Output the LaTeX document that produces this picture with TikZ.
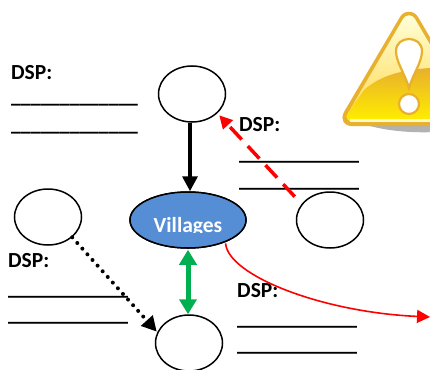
\documentclass[tikz,border=0pt]{standalone}
\usepackage{fontspec}
\setmainfont{Carlito}
\newfontfamily\rulefont{DejaVu Sans}
\usetikzlibrary{arrows.meta,shapes.geometric,calc}
\definecolor{vblue}{HTML}{558ED5}
\definecolor{vgreen}{HTML}{00B050}
\definecolor{iconedge}{HTML}{E8B02C}
\tikzset{
  circ/.style={draw=black,line width=1.5pt,fill=white,ellipse,minimum width=67pt,minimum height=56pt,inner sep=0pt},
  dsp/.style={anchor=west,inner sep=0pt,font=\bfseries\fontsize{21.5}{22}\selectfont},
  rule/.style={anchor=west,inner sep=0pt,font=\rulefont\bfseries\fontsize{20}{20}\selectfont},
  rulewide/.style={rule,font=\rulefont\bfseries\fontsize{19.5}{20}\selectfont},
  conn/.style={line width=3pt},
}
\newcommand{\blank}{\_\_\_\_\_\_\_\_\_\_\_\_}
\begin{document}
\begin{tikzpicture}[x=1pt,y=-1pt]
\useasboundingbox (0,0) rectangle (430,369);
\fill[white] (0,0) rectangle (430,369);
% warning icon
\begin{scope}
\clip (0,0) rectangle (430,369);
\fill[black!30] (370,124) -- (470,124) -- (470,128) .. controls (440,134) and (400,134) .. (370,126) -- cycle;
\path[fill=iconedge] (400,17) .. controls (404,10) and (414,10) .. (418,17) -- (474,112) .. controls (478,120) and (474,126) .. (466,126) -- (352,126) .. controls (344,126) and (340,120) .. (344,112) -- cycle;
\path[top color=yellow!15!white,bottom color=yellow!55!orange!70!white] (403,19) .. controls (406,14) and (412,14) .. (415,19) -- (470,113) .. controls (473,119) and (470,122) .. (464,122) -- (354,122) .. controls (348,122) and (345,119) .. (348,113) -- cycle;
\path[top color=iconedge,bottom color=yellow!85!orange] (364,90) .. controls (380,76) and (400,70) .. (430,68) -- (470,68) -- (470,119) -- (348,119) .. controls (346,118) and (346,115) .. (348,113) -- cycle;
\fill[yellow!20!white] (350,119) rectangle (470,122);
\path[draw=iconedge,line width=2.2pt,fill=white] (409,88) .. controls (405,74) and (396,62) .. (396,51) .. controls (396,35) and (422,35) .. (422,51) .. controls (422,62) and (413,74) .. (409,88) -- cycle;
\path[draw=iconedge,line width=2.2pt,fill=white] (409,104) circle (10);
\end{scope}
% text
\node[dsp] (d1) at (11,73) {DSP:};
\node[rulewide] (l1a) at (11,104) {\blank\_};
\node[rulewide] (l1b) at (11,132) {\blank\_};
\node[dsp] (d2) at (239,125) {DSP:};
\node[rule] (l2a) at (239,161) {\blank};
\node[rule] (l2b) at (239,188) {\blank};
\node[dsp] (d3) at (8,261) {DSP:};
\node[rule] (l3a) at (8,296) {\blank};
\node[rule] (l3b) at (8,322) {\blank};
\node[dsp] (d4) at (237,291) {DSP:};
\node[rule] (l4a) at (237,326) {\blank};
\node[rule] (l4b) at (237,352) {\blank};
% nodes
\node[circ] (top) at (192,94) {};
\node[circ,minimum width=116pt] (vil) at (188,220) {};
\node[circ] (right) at (330,220) {};
\node[circ] (left) at (48,217) {};
\node[circ] (bot) at (189,343) {};
\fill[vblue] (vil.center) ellipse (57.4 and 27.4);
\draw[black,line width=1.5pt] (vil.center) ellipse (58 and 28);
\begin{scope}
\clip (130,205) rectangle (246,232);
\node[inner sep=0pt,text=white,font=\bfseries\fontsize{21.5}{22}\selectfont] (villabel) at (188,227) {Villages};
\end{scope}
% connectors
\draw[conn,line width=3.4pt,black,-{Triangle[length=15pt,width=15pt]}] ($(top.south)+(-2,0)$) -- ($(vil.north)+(2,0)$);
\draw[conn,line width=3.5pt,red,dash pattern=on 17pt off 9pt,-{Triangle[length=13pt,width=13pt]}] ($(right.north west)+(-11,-3)$) -- ($(top.south east)+(3,1)$);
\draw[conn,line width=5pt,vgreen,{Triangle[length=15pt,width=17pt]}-{Triangle[length=15pt,width=17pt]}] ($(vil.south)+(0,1)$) -- (bot.north -| vil.south);
\draw[line width=1.6pt,red,-{Triangle[length=13pt,width=13pt]}] ($(vil.south east)+(-4,3)$) .. controls (228,275) and (320,312) .. (430,317);
\draw[line width=4pt,black,dash pattern=on 0pt off 7.6pt,line cap=round,-{Triangle[length=15pt,width=15pt]}] (left.south east) -- ($(bot.north west)+(-8,9)$);
\end{tikzpicture}
\end{document}
